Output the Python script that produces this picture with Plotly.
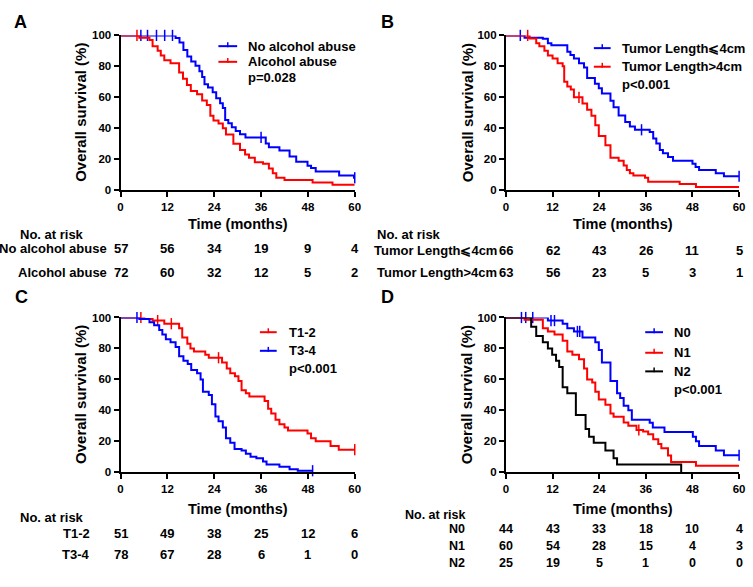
import plotly.graph_objects as go
import bisect

W, H = 753, 587
FONT = "Arial, 'Liberation Sans', Helvetica, sans-serif"
BLUE, RED, BLACK = "#0000FF", "#FF0000", "#000000"

# ---------------- DATA ----------------
risk_times = [0, 12, 24, 36, 48, 60]
x_ticks = [0, 12, 24, 36, 48, 60]
y_ticks = [0, 20, 40, 60, 80, 100]

# Panel A
A_no_t = [0, 14.1, 15.1, 16.1, 17.1, 18.1, 19.2, 20.2, 20.9, 21.5, 22.4, 23.6, 24.5, 25.5, 26.2, 26.8, 27.6, 28.5, 29.5, 30.6, 32.0, 37.2, 38.0, 40.7, 43.3, 45.0, 47.9, 48.8, 50.0, 56.0, 59.8]
A_no_s = [100, 98.3, 95.4, 90.5, 86.3, 83.2, 80.4, 76.8, 73.1, 68.4, 66.3, 63.2, 59.4, 56.2, 53.1, 45.3, 43.2, 40.6, 38.3, 36.2, 34.1, 30.1, 27.8, 25.7, 21.7, 18.3, 15.8, 14.3, 12.0, 9.5, 8.0]
A_no_end = 60
A_no_cens = [5.2, 6.9, 9.2, 11.3, 13.3, 36.0, 60]
A_al_t = [0, 4.8, 7.4, 8.2, 9.5, 10.3, 11.2, 12.8, 15.0, 16.0, 17.0, 18.0, 19.6, 20.9, 22.1, 23.0, 23.8, 25.1, 26.2, 27.0, 28.9, 30.6, 31.9, 32.9, 34.4, 36.5, 38.0, 39.0, 39.9, 42.0, 49.2, 54.3]
A_al_s = [100, 98.5, 97, 93, 90, 87, 84, 82, 76, 72, 68, 64, 62, 58, 55, 48, 45, 43, 40, 36, 30, 26, 23, 21, 18, 17, 14, 11, 8, 6.5, 5, 3.5]
A_al_end = 60
A_al_cens = [4.2]
A_labels = ["No alcohol abuse", "Alcohol abuse"]
A_risk = [[57, 56, 34, 19, 9, 4], [72, 60, 32, 12, 5, 2]]
A_p = "p=0.028"

# Panel B
B_le_t = [0, 4.8, 9.5, 10.8, 11.7, 15.8, 16.6, 17.5, 18.8, 20.1, 20.9, 22.9, 23.9, 24.7, 26.9, 27.7, 29.0, 30.7, 31.9, 33.2, 37.0, 37.9, 38.7, 39.6, 40.4, 41.7, 43.0, 48.0, 48.8, 49.7, 54.0, 56.1]
B_le_s = [100, 98.5, 97.8, 95, 93.6, 89.4, 87.3, 85, 82, 79.3, 72.5, 68.7, 65.8, 62.4, 57.7, 53.5, 48.2, 44, 41.2, 39, 37.6, 33.4, 30.2, 26, 23.9, 21.4, 19, 17, 15, 13, 11, 9]
B_le_end = 60
B_le_cens = [3.7, 34.9, 60]
B_gt_t = [0, 6.1, 7.8, 8.6, 9.9, 10.8, 12.0, 13.3, 14.6, 15.0, 15.8, 16.7, 17.5, 19.7, 20.9, 22.0, 23.0, 23.9, 25.6, 26.9, 29.0, 30.3, 31.1, 31.9, 32.8, 35.8, 36.6, 44.7, 48.9]
B_gt_s = [100, 98, 95, 93, 90, 87, 85, 82, 80, 70, 67, 65, 60, 56, 52, 48, 42, 35, 29, 21, 19, 16, 13, 11, 9.5, 8, 5.5, 4, 2]
B_gt_end = 60
B_gt_cens = [5.6, 18.8]
B_labels = ["Tumor Length\u2a7d4cm", "Tumor Length>4cm"]
B_risk = [[66, 62, 43, 26, 11, 5], [63, 56, 23, 5, 3, 1]]
B_p = "p<0.001"

# Panel C
C_t12_t = [0, 6.1, 8.2, 11.2, 15.0, 15.8, 17.1, 17.9, 18.8, 21.7, 22.6, 26.0, 27.2, 28.1, 29.3, 30.2, 31.0, 32.1, 33.0, 36.9, 37.8, 38.6, 39.7, 40.7, 42.0, 42.9, 47.9, 48.8, 50.0, 53.8, 55.9]
C_t12_s = [100, 99, 98, 96, 93, 87, 83, 80, 78, 76, 74, 71, 67, 64, 62, 59, 53, 51, 49, 46, 41, 38, 34, 31, 29, 27, 25, 22, 20, 17, 14.6]
C_t12_end = 60
C_t12_cens = [5.2, 9.5, 13.0, 25.1, 60]
C_t34_t = [0, 4.8, 7.4, 8.6, 9.9, 10.7, 11.6, 12.8, 14.1, 15.0, 16.1, 17.2, 18.1, 19.6, 20.5, 21.1, 22.6, 23.4, 24.3, 25.1, 26.2, 27.0, 28.1, 29.2, 31.0, 32.1, 33.3, 34.8, 36.5, 37.4, 40.7, 43.3, 45.4]
C_t34_s = [100, 99, 97, 95, 92, 89, 86, 84, 81, 75, 72, 70, 66, 64, 60, 52, 50, 44, 36, 33, 29, 22, 19, 15, 14, 12, 10, 9, 7, 5, 3.5, 2, 1]
C_t34_end = 49.2
C_t34_cens = [4.2, 49.2]
C_labels = ["T1-2", "T3-4"]
C_risk = [[51, 49, 38, 25, 12, 6], [78, 67, 28, 6, 1, 0]]
C_p = "p<0.001"

# Panel D
D_n0_t = [0, 10.8, 14.6, 15.8, 17.5, 19.7, 23.0, 23.9, 24.7, 26.9, 28.6, 29.4, 30.3, 31.5, 32.4, 37.0, 37.8, 40.8, 48.1, 48.9, 49.7, 54.0, 56.1]
D_n0_s = [100, 98, 96, 93, 91, 87, 84, 79, 71, 59, 51, 48, 43, 40, 34, 32, 29, 26, 23, 20, 17, 14, 11]
D_n0_end = 60
D_n0_cens = [4.0, 5.1, 6.9, 11.6, 12.5, 18.4, 19.0, 60]
D_n1_t = [0, 4.8, 9.5, 10.8, 12.5, 14.6, 15.8, 17.1, 18.8, 20.1, 20.9, 22.2, 23.0, 23.9, 25.6, 26.9, 27.7, 30.3, 31.5, 33.6, 35.3, 36.6, 37.9, 39.2, 40.0, 41.7, 42.5, 48.9]
D_n1_s = [100, 98.5, 93, 91, 89, 85, 78, 76, 73, 67, 60, 58, 52, 47, 43.6, 38, 35.8, 32.2, 30, 27.3, 26.3, 24.6, 21.4, 18.2, 15.5, 10.8, 6.6, 4.2]
D_n1_end = 60
D_n1_cens = [34.2]
D_n2_t = [0, 6.5, 7.8, 9.5, 10.8, 11.9, 12.9, 13.7, 14.6, 15.8, 18.0, 20.5, 21.4, 22.6, 25.6, 27.7, 28.6, 45.1]
D_n2_s = [100, 94, 88, 84, 80, 76, 72, 68, 55, 51, 37, 28, 23, 19, 14, 9, 5, 0]
D_n2_end = 45.1
D_n2_cens = []
D_labels = ["N0", "N1", "N2"]
D_risk = [[44, 43, 33, 18, 10, 4], [60, 54, 28, 15, 4, 3], [25, 19, 5, 1, 0, 0]]
D_p = "p<0.001"

# ---------------- HELPERS ----------------
def px(x):
    return x / W

def py(y):
    return 1 - y / H

def step_value(t, s, x):
    i = bisect.bisect_right(t, x) - 1
    return s[max(i, 0)]

fig = go.Figure()

panels = [
    dict(n=1, label="A", xd=(119, 356), yd=(30, 188), lab=(18, 16), ytitle_x=79, time_y=223,
         nar=(15, 233), row_right=107, rows_y=[248, 272], tsize=13,
         curves=[(A_no_t, A_no_s, A_no_end, A_no_cens, BLUE), (A_al_t, A_al_s, A_al_end, A_al_cens, RED)],
         labels=A_labels, risk=A_risk, p=A_p, leg_line=(218, 237), leg_text_x=246, leg_y=[41, 57, 73],
         leg_colors=[BLUE, RED]),
    dict(n=2, label="B", xd=(509, 745), yd=(30, 188), lab=(389, 16), ytitle_x=470, time_y=223,
         nar=(377, 233), row_right=502, rows_y=[250, 272], tsize=13,
         curves=[(B_le_t, B_le_s, B_le_end, B_le_cens, BLUE), (B_gt_t, B_gt_s, B_gt_end, B_gt_cens, RED)],
         labels=B_labels, risk=B_risk, p=B_p, leg_line=(598, 615), leg_text_x=624, leg_y=[43, 62, 80],
         leg_colors=[BLUE, RED]),
    dict(n=3, label="C", xd=(119, 356), yd=(318, 476), lab=(19, 297), ytitle_x=79, time_y=513,
         nar=(15, 522), row_right=90, rows_y=[538, 560], tsize=13,
         curves=[(C_t12_t, C_t12_s, C_t12_end, C_t12_cens, RED), (C_t34_t, C_t34_s, C_t34_end, C_t34_cens, BLUE)],
         labels=C_labels, risk=C_risk, p=C_p, leg_line=(260, 277), leg_text_x=287, leg_y=[333, 352, 370],
         leg_colors=[RED, BLUE]),
    dict(n=4, label="D", xd=(509, 745), yd=(318, 476), lab=(389, 297), ytitle_x=470, time_y=513,
         nar=(405, 520), row_right=470, rows_y=[534, 551.5, 569], tsize=12.5,
         curves=[(D_n0_t, D_n0_s, D_n0_end, D_n0_cens, BLUE), (D_n1_t, D_n1_s, D_n1_end, D_n1_cens, RED),
                 (D_n2_t, D_n2_s, D_n2_end, D_n2_cens, BLACK)],
         labels=D_labels, risk=D_risk, p=D_p, leg_line=(650, 668), leg_text_x=677, leg_y=[333, 354, 373, 392],
         leg_colors=[BLUE, RED, BLACK]),
]

annotations = []
shapes = []
layout_axes = {}

for P in panels:
    n = P["n"]
    xa = "x" if n == 1 else f"x{n}"
    ya = "y" if n == 1 else f"y{n}"
    xkey = "xaxis" if n == 1 else f"xaxis{n}"
    ykey = "yaxis" if n == 1 else f"yaxis{n}"
    layout_axes[xkey] = dict(
        domain=[px(P["xd"][0]), px(P["xd"][1])], anchor=ya, range=[0, 60],
        tickmode="array", tickvals=x_ticks, ticktext=[str(v) for v in x_ticks],
        showline=True, linewidth=2, linecolor="black", ticks="outside", ticklen=5, tickwidth=2,
        tickcolor="black", showgrid=False, zeroline=False, fixedrange=True,
        tickfont=dict(family=FONT, size=11.5, color="black", weight="bold"))
    layout_axes[ykey] = dict(
        domain=[py(P["yd"][1]), py(P["yd"][0])], anchor=xa, range=[0, 100],
        tickmode="array", tickvals=y_ticks, ticktext=[str(v) for v in y_ticks],
        showline=True, linewidth=2, linecolor="black", ticks="outside", ticklen=5, tickwidth=2,
        tickcolor="black", showgrid=False, zeroline=False, fixedrange=True,
        tickfont=dict(family=FONT, size=11.5, color="black", weight="bold"))

    for (t, s, end, cens, color) in P["curves"]:
        fig.add_trace(go.Scatter(
            x=t + [end], y=s + [s[-1]], mode="lines", line=dict(color=color, width=2, shape="hv"),
            xaxis=xa, yaxis=ya, showlegend=False, cliponaxis=False, hoverinfo="skip"))
        if cens:
            fig.add_trace(go.Scatter(
                x=cens, y=[step_value(t, s, c) for c in cens], mode="markers",
                marker=dict(symbol="line-ns", size=8, color=color, line=dict(width=1.5, color=color)),
                xaxis=xa, yaxis=ya, showlegend=False, cliponaxis=False, hoverinfo="skip"))

    ts = P["tsize"]
    annotations.append(dict(text=f"<b>{P['label']}</b>", x=px(P["lab"][0]), y=py(P["lab"][1]),
                            xref="paper", yref="paper", showarrow=False, xanchor="center", yanchor="middle",
                            font=dict(family=FONT, size=18, color="black")))
    annotations.append(dict(text="<b>Overall survival (%)</b>", x=px(P["ytitle_x"]),
                            y=py((P["yd"][0] + P["yd"][1]) / 2), xref="paper", yref="paper",
                            showarrow=False, textangle=-90, xanchor="center", yanchor="middle",
                            font=dict(family=FONT, size=15, color="black")))
    annotations.append(dict(text="<b>Time (months)</b>", x=px((P["xd"][0] + P["xd"][1]) / 2),
                            y=py(P["time_y"]), xref="paper", yref="paper", showarrow=False,
                            xanchor="center", yanchor="middle", font=dict(family=FONT, size=14.5, color="black")))
    annotations.append(dict(text="<b>No. at risk</b>", x=px(P["nar"][0]), y=py(P["nar"][1]),
                            xref="paper", yref="paper", showarrow=False, xanchor="left", yanchor="middle",
                            font=dict(family=FONT, size=ts, color="black")))
    for lab, vals, ry in zip(P["labels"], P["risk"], P["rows_y"]):
        annotations.append(dict(text=f"<b>{lab}</b>", x=px(P["row_right"]), y=py(ry), xref="paper",
                                yref="paper", showarrow=False, xanchor="right", yanchor="middle",
                                font=dict(family=FONT, size=ts, color="black")))
        for tt, v in zip(risk_times, vals):
            annotations.append(dict(text=f"<b>{v}</b>", x=tt, y=py(ry), xref=xa, yref="paper",
                                    showarrow=False, xanchor="center", yanchor="middle",
                                    font=dict(family=FONT, size=ts, color="black")))
    x0, x1 = P["leg_line"]
    for lab, col, ly in zip(P["labels"], P["leg_colors"], P["leg_y"]):
        shapes.append(dict(type="line", xref="paper", yref="paper", x0=px(x0), x1=px(x1), y0=py(ly), y1=py(ly),
                           line=dict(color=col, width=2)))
        xm = (x0 + x1) / 2
        shapes.append(dict(type="line", xref="paper", yref="paper", x0=px(xm), x1=px(xm), y0=py(ly + 1),
                           y1=py(ly - 4), line=dict(color=col, width=1.5)))
        annotations.append(dict(text=f"<b>{lab}</b>", x=px(P["leg_text_x"]), y=py(ly), xref="paper",
                                yref="paper", showarrow=False, xanchor="left", yanchor="middle",
                                font=dict(family=FONT, size=13, color="black")))
    annotations.append(dict(text=f"<b>{P['p']}</b>", x=px(P["leg_text_x"]), y=py(P["leg_y"][-1]),
                            xref="paper", yref="paper", showarrow=False, xanchor="left", yanchor="middle",
                            font=dict(family=FONT, size=13, color="black")))

fig.update_layout(
    width=W, height=H, margin=dict(l=0, r=0, t=0, b=0),
    paper_bgcolor="white", plot_bgcolor="white", showlegend=False, hovermode=False,
    annotations=annotations, shapes=shapes, **layout_axes)

fig.write_html("out.html", config={"displayModeBar": False, "staticPlot": True},
               post_script="document.body.style.margin='0';document.body.style.overflow='hidden';")
